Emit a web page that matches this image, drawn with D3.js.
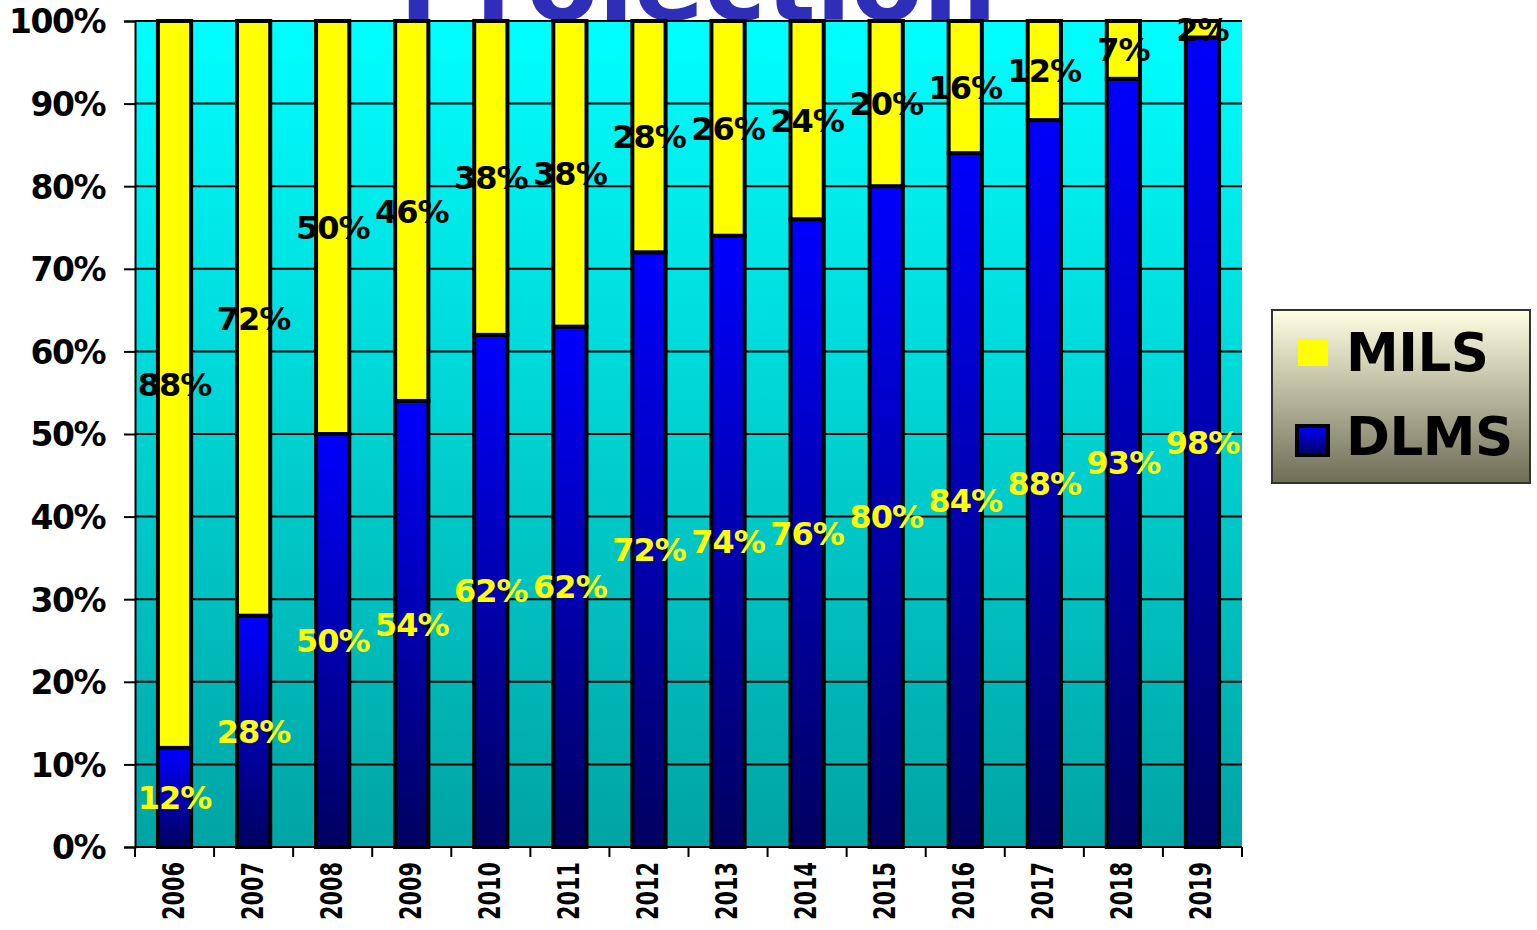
<!DOCTYPE html>
<html>
<head>
<meta charset="utf-8">
<script src="https://cdn.jsdelivr.net/npm/d3@7"></script>
<style>
  body { margin: 0; background: #fff; }
  text { font-family: "DejaVu Sans", Verdana, sans-serif; font-weight: bold; }
</style>
</head>
<body>
<div id="chart"></div>
<script>
// data
var years = ["2006", "2007", "2008", "2009", "2010", "2011", "2012", "2013", "2014", "2015", "2016", "2017", "2018", "2019"];
var dlms = [12, 28, 50, 54, 62, 63, 72, 74, 76, 80, 84, 88, 93, 98];
var mils = [88, 72, 50, 46, 38, 37, 28, 26, 24, 20, 16, 12, 7, 2];
var dlmsLabels = ["12%", "28%", "50%", "54%", "62%", "62%", "72%", "74%", "76%", "80%", "84%", "88%", "93%", "98%"];
var milsLabels = ["88%", "72%", "50%", "46%", "38%", "38%", "28%", "26%", "24%", "20%", "16%", "12%", "7%", "2%"];
var yTicks = [0, 10, 20, 30, 40, 50, 60, 70, 80, 90, 100];
var seriesNames = ["MILS", "DLMS"];

// note: "top" is taken by window.top, so plot edges get their own names
var width = 1537,
    height = 930,
    plotL = 135, plotR = 1242, plotT = 21, plotB = 847;

var svg = d3.select("#chart").append("svg")
    .attr("width", width)
    .attr("height", height);

var defs = svg.append("defs");

var bg = defs.append("linearGradient").attr("id", "bg")
    .attr("x1", 0).attr("y1", 0).attr("x2", 0).attr("y2", 1);
bg.append("stop").attr("offset", "0%").attr("stop-color", "#00ffff");
bg.append("stop").attr("offset", "100%").attr("stop-color", "#00a4a4");

var blue = defs.append("linearGradient").attr("id", "blue")
    .attr("x1", 0).attr("y1", 0).attr("x2", 0).attr("y2", 1);
blue.append("stop").attr("offset", "0%").attr("stop-color", "#0000ff");
blue.append("stop").attr("offset", "100%").attr("stop-color", "#000060");

var leg = defs.append("linearGradient").attr("id", "leg")
    .attr("x1", 0).attr("y1", 0).attr("x2", 0).attr("y2", 1);
leg.append("stop").attr("offset", "0%").attr("stop-color", "#ffffe2");
leg.append("stop").attr("offset", "100%").attr("stop-color", "#6e6e57");

var x = d3.scaleBand()
    .domain(years)
    .range([plotL, plotR])
    .padding(0);

var y = d3.scaleLinear()
    .domain([0, 100])
    .range([plotB, plotT]);

var barW = x.bandwidth() * 0.42;

// title, mostly cut off by the top of the page
svg.append("text")
    .attr("x", 698)
    .attr("y", 20)
    .attr("text-anchor", "middle")
    .style("font-size", "104px")
    .style("fill", "#2e2eb8")
    .text("Projection");

// plot background
svg.append("rect")
    .attr("x", plotL)
    .attr("y", plotT)
    .attr("width", plotR - plotL)
    .attr("height", plotB - plotT)
    .style("fill", "url(#bg)");

// gridlines
svg.append("g")
  .selectAll("line")
    .data(yTicks.filter(function(d) { return d > 0; }))
  .enter().append("line")
    .attr("x1", plotL)
    .attr("x2", plotR)
    .attr("y1", function(d) { return y(d); })
    .attr("y2", function(d) { return y(d); })
    .style("stroke", "#000")
    .style("stroke-width", 2);

var bars = svg.append("g");

// DLMS (bottom)
bars.selectAll(".dlms")
    .data(years)
  .enter().append("rect")
    .attr("class", "dlms")
    .attr("x", function(d) { return x(d) + (x.bandwidth() - barW) / 2; })
    .attr("width", barW)
    .attr("y", function(d, i) { return y(dlms[i]); })
    .attr("height", function(d, i) { return y(0) - y(dlms[i]); })
    .style("fill", "url(#blue)")
    .style("stroke", "#000")
    .style("stroke-width", 4);

// MILS (top)
bars.selectAll(".mils")
    .data(years)
  .enter().append("rect")
    .attr("class", "mils")
    .attr("x", function(d) { return x(d) + (x.bandwidth() - barW) / 2; })
    .attr("width", barW)
    .attr("y", function(d, i) { return y(dlms[i] + mils[i]); })
    .attr("height", function(d, i) { return y(dlms[i]) - y(dlms[i] + mils[i]); })
    .style("fill", "#ffff00")
    .style("stroke", "#000")
    .style("stroke-width", 4);

// axes
var yAxis = svg.append("g")
    .attr("transform", "translate(" + plotL + ",0)")
    .call(d3.axisLeft(y).tickValues(yTicks).tickSize(11).tickPadding(19)
        .tickFormat(function(d) { return d + "%"; }));
yAxis.select(".domain").style("stroke", "#000").style("stroke-width", 2);
yAxis.selectAll(".tick line").style("stroke", "#000").style("stroke-width", 2);
yAxis.selectAll(".tick text")
    .style("font-size", "33px")
    .style("letter-spacing", "-1.5px")
    .style("fill", "#000")
    .attr("dy", "0.36em");

var xAxis = svg.append("g")
    .attr("transform", "translate(0," + plotB + ")");
xAxis.append("line")
    .attr("x1", plotL).attr("x2", plotR)
    .style("stroke", "#000").style("stroke-width", 2);
xAxis.selectAll(".bt")
    .data(years.concat(["end"]))
  .enter().append("line")
    .attr("class", "bt")
    .attr("x1", function(d) { return d == "end" ? plotR : x(d); })
    .attr("x2", function(d) { return d == "end" ? plotR : x(d); })
    .attr("y1", 0).attr("y2", 10)
    .style("stroke", "#000").style("stroke-width", 2);
xAxis.selectAll(".yl")
    .data(years)
  .enter().append("text")
    .attr("class", "yl")
    .attr("transform", function(d) {
        return "translate(" + (x(d) + x.bandwidth() / 2 + 9) + ",15)rotate(-90)"; })
    .attr("text-anchor", "end")
    .attr("textLength", 58)
    .attr("lengthAdjust", "spacingAndGlyphs")
    .style("font-size", "30px")
    .style("fill", "#000")
    .text(function(d) { return d; });

// value labels, centred in each segment
var labels = svg.append("g");
labels.selectAll(".ld")
    .data(years)
  .enter().append("text")
    .attr("class", "ld")
    .attr("x", function(d) { return x(d) + x.bandwidth() / 2; })
    .attr("y", function(d, i) { return y(dlms[i] / 2); })
    .attr("dy", "0.36em")
    .attr("text-anchor", "middle")
    .style("font-size", "32px")
    .style("letter-spacing", "-1px")
    .style("fill", "#ffff00")
    .text(function(d, i) { return dlmsLabels[i]; });
labels.selectAll(".lm")
    .data(years)
  .enter().append("text")
    .attr("class", "lm")
    .attr("x", function(d) { return x(d) + x.bandwidth() / 2; })
    .attr("y", function(d, i) { return y(dlms[i] + mils[i] / 2); })
    .attr("dy", "0.36em")
    .attr("text-anchor", "middle")
    .style("font-size", "32px")
    .style("letter-spacing", "-1px")
    .style("fill", "#000")
    .text(function(d, i) { return milsLabels[i]; });

// legend
var lg = svg.append("g").attr("transform", "translate(1272,310)");
lg.append("rect")
    .attr("width", 258).attr("height", 173)
    .style("fill", "url(#leg)")
    .style("stroke", "#333").style("stroke-width", 2);
lg.append("rect")
    .attr("x", 26).attr("y", 29).attr("width", 30).attr("height", 27)
    .style("fill", "#ffff00");
lg.append("rect")
    .attr("x", 25).attr("y", 116).attr("width", 31).attr("height", 29)
    .style("fill", "url(#blue)")
    .style("stroke", "#000").style("stroke-width", 4);
lg.selectAll(".lt")
    .data(seriesNames)
  .enter().append("text")
    .attr("class", "lt")
    .attr("x", 74)
    .attr("y", function(d, i) { return i == 0 ? 61 : 145; })
    .style("font-size", "53px")
    .style("letter-spacing", "-0.5px")
    .style("fill", "#000")
    .text(function(d) { return d; });
</script>
</body>
</html>
